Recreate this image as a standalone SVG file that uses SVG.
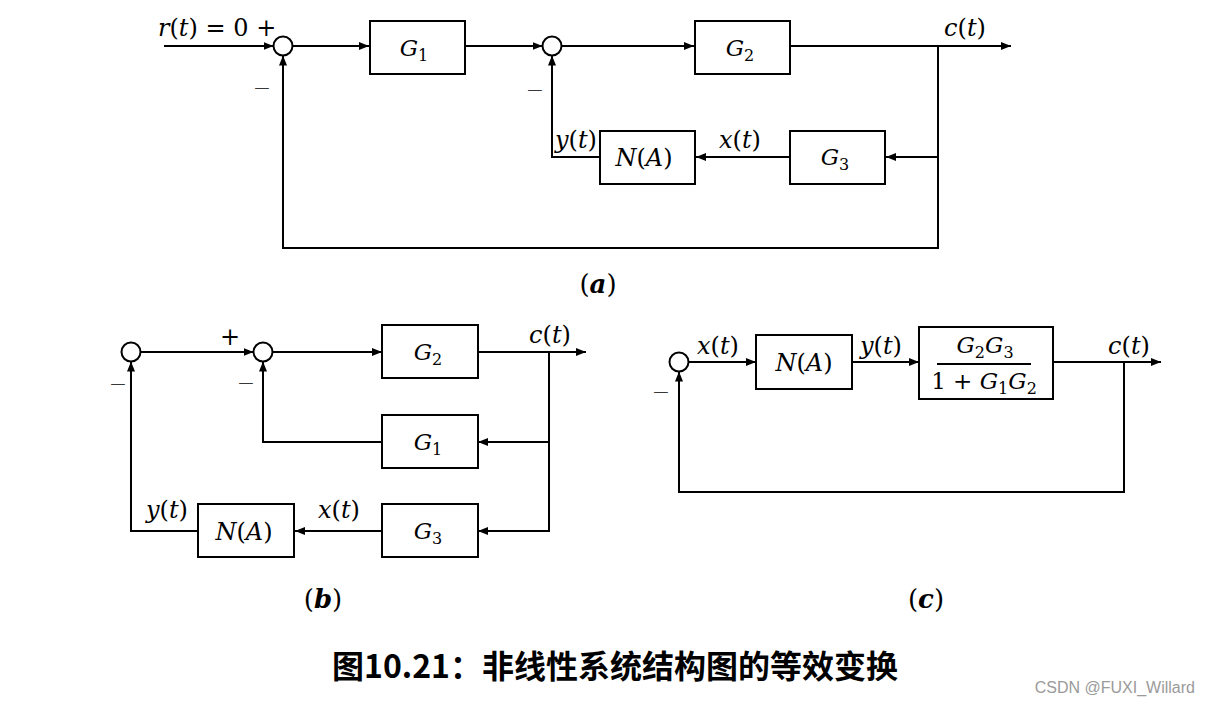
<svg xmlns="http://www.w3.org/2000/svg" width="1210" height="705" viewBox="0 0 1210 705">
<defs>
<marker id="arr" markerUnits="userSpaceOnUse" markerWidth="10" markerHeight="8" viewBox="0 0 10 8" refX="10" refY="4" orient="auto"><path d="M0,0 L10,4 L0,8 z" fill="#000"/></marker>
<style>
.box{fill:#fff;stroke:#000;stroke-width:2}
.sum{fill:#fff;stroke:#000;stroke-width:2}
.ln{fill:none;stroke:#000;stroke-width:2;marker-end:url(#arr)}
.pl{fill:none;stroke:#000;stroke-width:2}
.t{font-family:"DejaVu Serif","Liberation Serif",serif;font-size:24px;fill:#000}
.g{font-size:23px}
.i{font-style:italic}
.s{font-size:16px}
.m{font-family:"DejaVu Sans","Liberation Sans",sans-serif;font-size:22px;font-weight:300}
.lab{font-family:"DejaVu Serif","Liberation Serif",serif;font-size:26px;fill:#000}
.title{font-family:"Noto Sans CJK SC","Noto Sans",sans-serif;font-size:32px;font-weight:700;fill:#000}
.wm{font-family:"Liberation Sans",Arial,sans-serif;font-size:16px;fill:#9a9a9a}
</style>
</defs>
<rect width="1210" height="705" fill="#fff"/>

<g id="connectors">
<!-- (a) -->
<path class="ln" d="M164,46 H273.5"/>
<path class="ln" d="M292.5,46 H369"/>
<path class="ln" d="M466,46 H542.5"/>
<path class="ln" d="M561.5,46 H694"/>
<path class="ln" d="M790,46 H1011"/>
<path class="ln" d="M938,46 V248 H283 V55.5"/>
<path class="ln" d="M938,157 H886"/>
<path class="ln" d="M790,157 H696"/>
<path class="ln" d="M600,157 H552 V55.5"/>
<!-- (b) -->
<path class="ln" d="M140.5,352 H253.5"/>
<path class="ln" d="M272.5,352 H382"/>
<path class="ln" d="M478,352 H586"/>
<path class="ln" d="M549,352 V531 H478"/>
<path class="ln" d="M549,442 H478"/>
<path class="ln" d="M382,442 H263 V361.5"/>
<path class="ln" d="M382,531 H295"/>
<path class="ln" d="M198,531 H131 V361.5"/>
<!-- (c) -->
<path class="ln" d="M688.5,362 H756"/>
<path class="ln" d="M852,362 H919"/>
<path class="ln" d="M1053,362 H1161"/>
<path class="ln" d="M1124,362 V492 H679 V371.5"/>
</g>

<!-- (a) nodes -->
<g id="a_sum1"><circle class="sum" cx="283" cy="46" r="9.5"/></g>
<g id="a_sum2"><circle class="sum" cx="552" cy="46" r="9.5"/></g>
<g id="a_G1"><rect class="box" x="370" y="21" width="95" height="53"/>
<text class="t g" x="414" y="56" text-anchor="middle"><tspan class="i">G</tspan><tspan class="s" dy="5">1</tspan></text></g>
<g id="a_G2"><rect class="box" x="695" y="21" width="95" height="53"/>
<text class="t g" x="740" y="56" text-anchor="middle"><tspan class="i">G</tspan><tspan class="s" dy="5">2</tspan></text></g>
<g id="a_G3"><rect class="box" x="790" y="131" width="95" height="53"/>
<text class="t g" x="835" y="165" text-anchor="middle"><tspan class="i">G</tspan><tspan class="s" dy="5">3</tspan></text></g>
<g id="a_N"><rect class="box" x="600" y="131" width="95" height="53"/>
<text class="t" x="644" y="166" text-anchor="middle"><tspan class="i">N</tspan>(<tspan class="i">A</tspan>)</text></g>
<g id="a_labels">
<text class="t" x="158" y="36"><tspan class="i">r</tspan>(<tspan class="i">t</tspan>) = 0 +</text>
<text class="t m" x="262" y="95" text-anchor="middle">−</text>
<text class="t m" x="535" y="97" text-anchor="middle">−</text>
<text class="t" x="965" y="36" text-anchor="middle"><tspan class="i">c</tspan>(<tspan class="i">t</tspan>)</text>
<text class="t" x="576" y="148" text-anchor="middle"><tspan class="i">y</tspan>(<tspan class="i">t</tspan>)</text>
<text class="t" x="740" y="148" text-anchor="middle"><tspan class="i">x</tspan>(<tspan class="i">t</tspan>)</text>
<text class="lab" x="598" y="293" text-anchor="middle">(<tspan font-weight="bold" font-style="italic">a</tspan>)</text>
</g>

<!-- (b) nodes -->
<g id="b_sum1"><circle class="sum" cx="131" cy="352" r="9.5"/></g>
<g id="b_sum2"><circle class="sum" cx="263" cy="352" r="9.5"/></g>
<g id="b_G2"><rect class="box" x="382" y="325" width="96" height="53"/>
<text class="t g" x="428" y="360" text-anchor="middle"><tspan class="i">G</tspan><tspan class="s" dy="5">2</tspan></text></g>
<g id="b_G1"><rect class="box" x="382" y="415" width="96" height="53"/>
<text class="t g" x="428" y="450" text-anchor="middle"><tspan class="i">G</tspan><tspan class="s" dy="5">1</tspan></text></g>
<g id="b_G3"><rect class="box" x="382" y="504" width="96" height="53"/>
<text class="t g" x="428" y="539" text-anchor="middle"><tspan class="i">G</tspan><tspan class="s" dy="5">3</tspan></text></g>
<g id="b_N"><rect class="box" x="198" y="504" width="96" height="53"/>
<text class="t" x="244" y="540" text-anchor="middle"><tspan class="i">N</tspan>(<tspan class="i">A</tspan>)</text></g>
<g id="b_labels">
<text class="t" x="230" y="345" text-anchor="middle">+</text>
<text class="t m" x="118" y="391" text-anchor="middle">−</text>
<text class="t m" x="246" y="390" text-anchor="middle">−</text>
<text class="t" x="550" y="343" text-anchor="middle"><tspan class="i">c</tspan>(<tspan class="i">t</tspan>)</text>
<text class="t" x="167" y="518" text-anchor="middle"><tspan class="i">y</tspan>(<tspan class="i">t</tspan>)</text>
<text class="t" x="339" y="518" text-anchor="middle"><tspan class="i">x</tspan>(<tspan class="i">t</tspan>)</text>
<text class="lab" x="323" y="608" text-anchor="middle">(<tspan font-weight="bold" font-style="italic">b</tspan>)</text>
</g>

<!-- (c) nodes -->
<g id="c_sum"><circle class="sum" cx="679" cy="362" r="9.5"/></g>
<g id="c_N"><rect class="box" x="756" y="335" width="96" height="54"/>
<text class="t" x="804" y="371" text-anchor="middle"><tspan class="i">N</tspan>(<tspan class="i">A</tspan>)</text></g>
<g id="c_G"><rect class="box" x="919" y="327" width="134" height="72"/>
<text class="t g" x="985" y="353" text-anchor="middle"><tspan class="i">G</tspan><tspan class="s" dy="5">2</tspan><tspan class="i" dy="-5">G</tspan><tspan class="s" dy="5">3</tspan></text>
<line class="pl" x1="937" y1="364" x2="1031" y2="364"/>
<text class="t g" x="984" y="389" text-anchor="middle">1 + <tspan class="i">G</tspan><tspan class="s" dy="5">1</tspan><tspan class="i" dy="-5">G</tspan><tspan class="s" dy="5">2</tspan></text></g>
<g id="c_labels">
<text class="t m" x="661" y="399" text-anchor="middle">−</text>
<text class="t" x="718" y="354" text-anchor="middle"><tspan class="i">x</tspan>(<tspan class="i">t</tspan>)</text>
<text class="t" x="881" y="354" text-anchor="middle"><tspan class="i">y</tspan>(<tspan class="i">t</tspan>)</text>
<text class="t" x="1129" y="354" text-anchor="middle"><tspan class="i">c</tspan>(<tspan class="i">t</tspan>)</text>
<text class="lab" x="926" y="608" text-anchor="middle">(<tspan font-weight="bold" font-style="italic">c</tspan>)</text>
</g>

<g id="caption">
<text class="title" x="615" y="678" text-anchor="middle">图10.21：非线性系统结构图的等效变换</text>
<text class="wm" x="1195" y="693" text-anchor="end">CSDN @FUXI_Willard</text>
</g>
</svg>
